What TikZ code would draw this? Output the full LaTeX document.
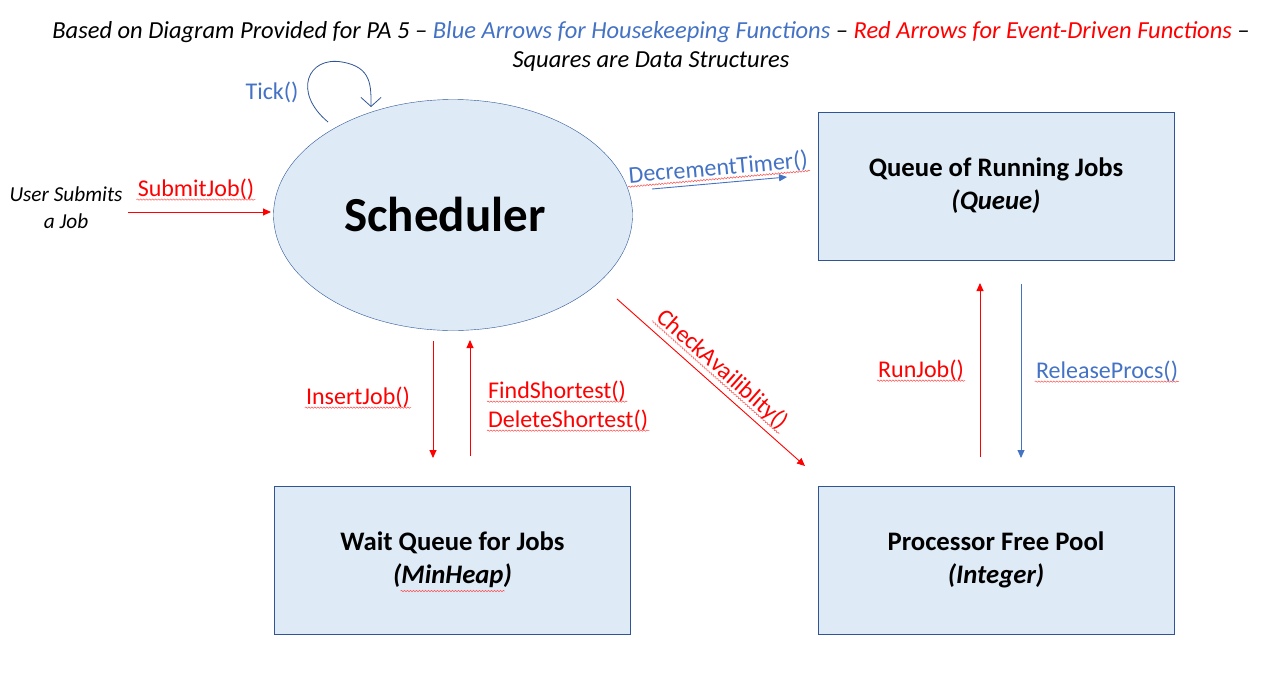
\documentclass[tikz,border=0pt]{standalone}
\usepackage{fontspec}
\setmainfont{Carlito}
\usetikzlibrary{arrows.meta,positioning,shapes.geometric,calc,decorations.pathmorphing}

\definecolor{hkblue}{HTML}{4472C4}
\definecolor{evred}{HTML}{FF0000}
\definecolor{dsfill}{HTML}{DEEBF7}
\definecolor{dsline}{HTML}{2F5597}

\newcommand\spellmark[1]{\draw[squiggle] ($(#1.base west)!3.5pt!-90:(#1.base east)$) -- ($(#1.base east)!3.5pt!90:(#1.base west)$);}

\begin{document}
\begin{tikzpicture}[x=1pt,y=-1pt,
  every node/.style={inner sep=1pt},
  func/.style={font=\fontsize{24}{29}\selectfont},
  redfn/.style={func,text=evred},
  bluefn/.style={func,text=hkblue},
  dstruct/.style={rectangle,draw=dsline,fill=dsfill,minimum width=356pt,minimum height=148pt,
    align=center,font=\fontsize{26.7}{33}\selectfont\bfseries},
  redarr/.style={-{Triangle[length=8pt,width=7pt]},evred,line width=0.9pt},
  bluearr/.style={-{Triangle[length=8pt,width=7pt]},hkblue,line width=0.9pt},
  squiggle/.style={draw=red!70,line width=0.5pt,decorate,
    decoration={snake,amplitude=0.7pt,segment length=3pt}}]
  \useasboundingbox (0,0) rectangle (1265,675);

  \node[align=center,font=\fontsize{24.5}{29}\selectfont\itshape] (title) at (651,46)
    {Based on Diagram Provided for PA 5 -- \textcolor{hkblue}{Blue Arrows for Housekeeping Functions} -- \textcolor{evred}{Red Arrows for Event-Driven Functions} --\\Squares are Data Structures};

  \node[ellipse,draw=dsline,fill=dsfill,minimum width=359pt,minimum height=231pt,inner sep=0pt] (sched) at (453,215) {};
  \node[font=\fontsize{49}{58}\selectfont\bfseries] (schedtxt) at (445,214) {Scheduler};
  \node[dstruct] (running) at (996,186) {Queue of Running Jobs\\\textit{(Queue)}};
  \node[dstruct] (waitq) at (452.5,560) {Wait Queue for Jobs\\\textit{(MinHeap)}};
  \node[dstruct] (pool) at (996,560) {Processor Free Pool\\\textit{(Integer)}};

  \node[align=center,font=\fontsize{21.3}{27}\selectfont\itshape] (user) at (66,208) {User Submits\\a Job};

  % arrow ends
  \coordinate (submit s) at (128,212);  \coordinate (submit e) at (271,212);
  \coordinate (tick s) at (328,122);    \coordinate (tick e) at (371,107);
  \coordinate (dec s) at (652,189);     \coordinate (dec e) at (787,177);
  \coordinate (chk s) at (617,299);     \coordinate (chk e) at (805,466);
  \coordinate (ins s) at (433,341);     \coordinate (ins e) at (433,458);
  \coordinate (find s) at (470,456);    \coordinate (find e) at (470,340);
  \coordinate (run s) at (980,457);     \coordinate (run e) at (980,283);
  \coordinate (rel s) at (1021,284);    \coordinate (rel e) at (1021,458);

  \draw[redarr] (submit s) -- (submit e);
  \node[redfn] (submitlbl) at (196,189) {SubmitJob()};

  \draw[dsline,line width=0.8pt,-{Straight Barb[length=9pt,width=20pt]}]
    (tick s) .. controls (292,92) and (308,56) .. (342,62) .. controls (372,67) and (371,86) .. (tick e);
  \node[bluefn] (ticklbl) at (272,92) {Tick()};

  \draw[bluearr] (dec s) -- node[bluefn,sloped,above=3pt] (declbl) {DecrementTimer()} (dec e);
  \draw[redarr] (chk s) -- node[redfn,sloped,above=5pt] (chklbl) {CheckAvailiblity()} (chk e);

  \draw[redarr] (ins s) -- (ins e);
  \node[redfn] (inslbl) at (358,397) {InsertJob()};
  \draw[redarr] (find s) -- (find e);
  \node[redfn,anchor=west] (findlbl) at (487,391) {FindShortest()};
  \node[redfn,anchor=west] (dellbl) at (487,420) {DeleteShortest()};

  \draw[redarr] (run s) -- (run e);
  \node[redfn] (runlbl) at (921,370) {RunJob()};
  \draw[bluearr] (rel s) -- (rel e);
  \node[bluefn] (rellbl) at (1107,371) {ReleaseProcs()};

  % spelling marks
  \spellmark{submitlbl}
  \spellmark{declbl}
  \spellmark{chklbl}
  \spellmark{inslbl}
  \spellmark{findlbl}
  \spellmark{dellbl}
  \spellmark{runlbl}
  \spellmark{rellbl}
  \draw[squiggle] ($(waitq.center)+(-52,31)$) -- ($(waitq.center)+(52,31)$);
\end{tikzpicture}
\end{document}
